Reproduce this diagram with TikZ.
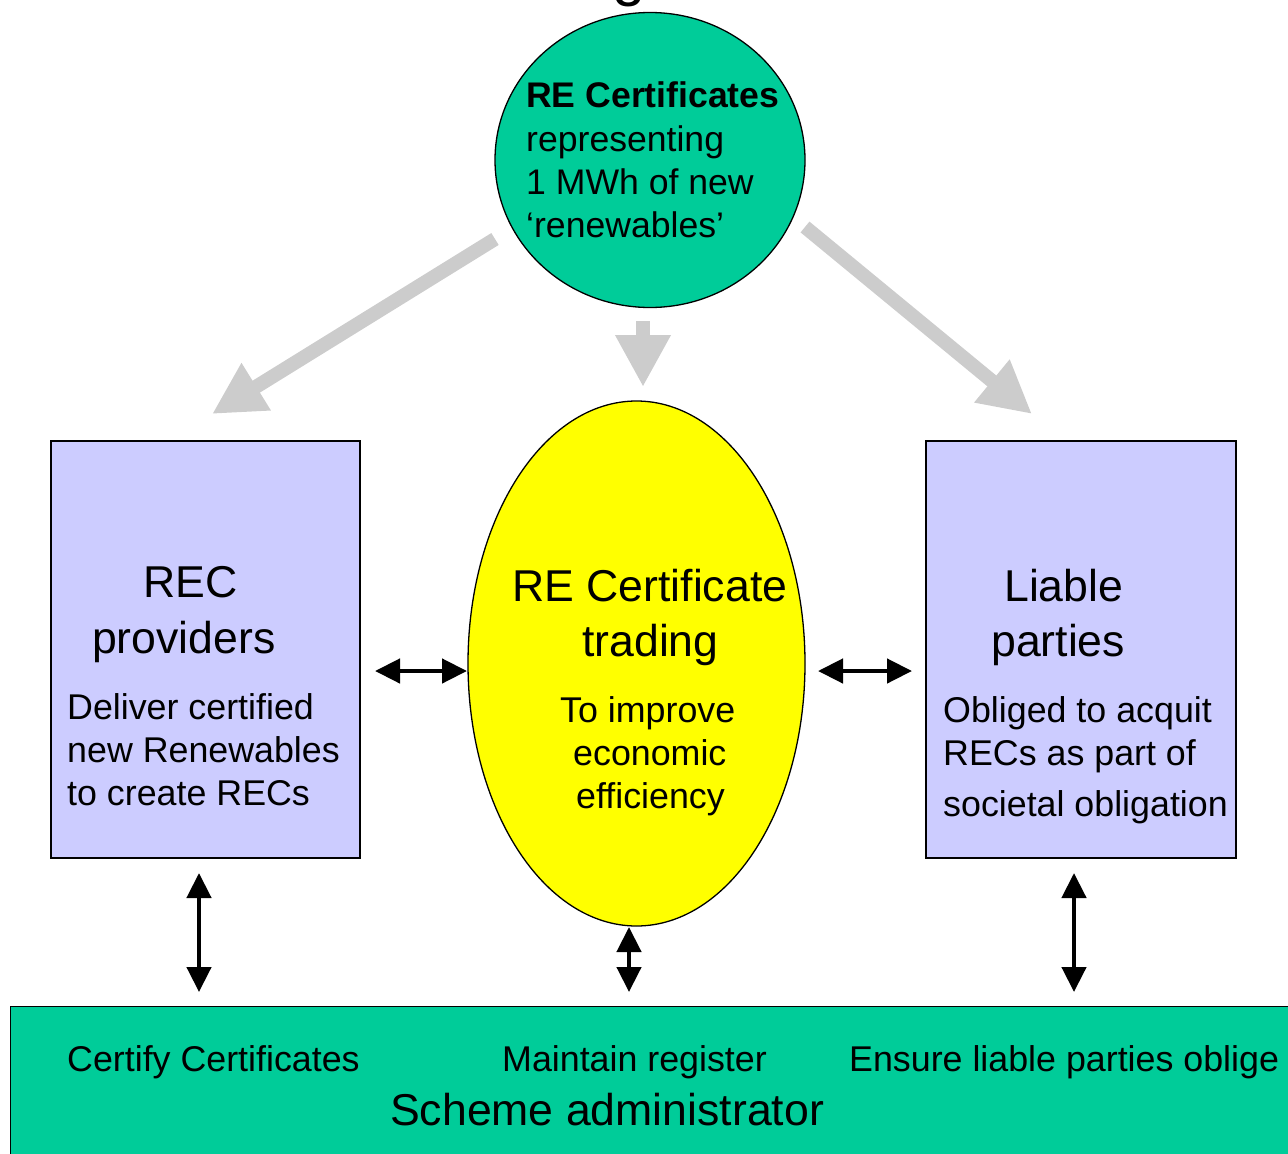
\documentclass[tikz,border=0pt]{standalone}
\usepackage{fontspec}
\setmainfont{Liberation Sans}
\usetikzlibrary{shapes.geometric,arrows.meta}
\definecolor{teal}{HTML}{00CC99}
\definecolor{lav}{HTML}{CCCCFF}
\definecolor{yel}{HTML}{FFFF00}
\definecolor{grayarr}{HTML}{CCCCCC}
\tikzset{
  shapeline/.style={draw=black, line width=1.3pt},
  txt/.style={inner sep=0pt, anchor=base west, font=\fontsize{35.8}{43}\selectfont},
  big/.style={inner sep=0pt, anchor=base west, font=\fontsize{44.6}{55}\selectfont},
  fat/.style={draw=grayarr, line width=14pt, -{Triangle[width=52pt,length=52pt]}},
  dbl/.style={draw=black, line width=4.5pt, {Triangle[width=24pt,length=25pt]}-{Triangle[width=24pt,length=25pt]}}
}
\begin{document}
\begin{tikzpicture}[x=1pt,y=-1pt]
\useasboundingbox (0,0) rectangle (1288,1154);
% partial title glyph (cut off at the top edge, as in the reference)
\node[inner sep=0pt, anchor=base west, font=\fontsize{60}{60}\selectfont] (titleg) at (612,-6) {g};
% shapes
\node[ellipse, shapeline, fill=teal, minimum width=310pt, minimum height=295pt, inner sep=0pt] (circ) at (650,160) {};
\node[rectangle, shapeline, fill=lav, minimum width=309pt, minimum height=417pt, inner sep=0pt] (lbox) at (205.5,649.5) {};
\node[rectangle, shapeline, fill=lav, minimum width=310pt, minimum height=417pt, inner sep=0pt] (rbox) at (1081,649.5) {};
\node[ellipse, shapeline, fill=yel, minimum width=337pt, minimum height=525pt, inner sep=0pt] (mell) at (636.5,663.5) {};
\node[rectangle, shapeline, fill=teal, minimum width=1290pt, minimum height=164pt, inner sep=0pt, anchor=north west] (admin) at (10,1006) {};
% circle text
\node[txt, font=\fontsize{35.6}{43}\selectfont\bfseries] (c1) at (526,107) {RE Certificates};
\node[txt, font=\fontsize{35.6}{43}\selectfont] (c2) at (526,151) {representing};
\node[txt, font=\fontsize{35.6}{43}\selectfont] (c3) at (526,194) {1 MWh of new};
\node[txt, font=\fontsize{35.6}{43}\selectfont] (c4) at (526,237) {‘renewables’};
% left box text
\node[big] (l1) at (143,597) {REC};
\node[big] (l2) at (92,653) {providers};
\node[txt] (l3) at (67,719) {Deliver certified};
\node[txt] (l4) at (67,762) {new Renewables};
\node[txt] (l5) at (67,805) {to create RECs};
% middle text
\node[big] (m1) at (512,601) {RE Certificate};
\node[big] (m2) at (582,656) {trading};
\node[txt] (m3) at (560,722) {To improve};
\node[txt] (m4) at (573,765) {economic};
\node[txt] (m5) at (576,808) {efficiency};
% right text
\node[big] (r1) at (1004,601) {Liable};
\node[big] (r2) at (991,656) {parties};
\node[txt] (r3) at (943,722) {Obliged to acquit};
\node[txt] (r4) at (943,765) {RECs as part of};
\node[txt] (r5) at (943,816) {societal obligation};
% bottom text
\node[txt] (b1) at (67,1071) {Certify Certificates};
\node[txt] (b2) at (502,1071) {Maintain register};
\node[txt] (b3) at (849,1071) {Ensure liable parties oblige};
\node[big] (b4) at (390,1125) {Scheme administrator};
% gray arrow ends
\coordinate (gl0) at (495,239);
\coordinate (gl1) at (212,414);
\coordinate (gm0) at (643,321);
\coordinate (gm1) at (643,387);
\coordinate (gr0) at (805,227);
\coordinate (gr1) at (1032,414);
\draw[fat] (gl0) -- (gl1);
\draw[fat] (gm0) -- (gm1);
\draw[fat] (gr0) -- (gr1);
% black arrows
\coordinate (h1a) at (375,671);
\coordinate (h1b) at (467,671);
\coordinate (h2a) at (818,671);
\coordinate (h2b) at (912,671);
\coordinate (v1a) at (199,873);
\coordinate (v1b) at (199,992);
\coordinate (v2a) at (629,927);
\coordinate (v2b) at (629,992);
\coordinate (v3a) at (1074,873);
\coordinate (v3b) at (1074,992);
\draw[dbl] (h1a) -- (h1b);
\draw[dbl] (h2a) -- (h2b);
\draw[dbl] (v1a) -- (v1b);
\draw[dbl] (v2a) -- (v2b);
\draw[dbl] (v3a) -- (v3b);
\end{tikzpicture}
\end{document}
